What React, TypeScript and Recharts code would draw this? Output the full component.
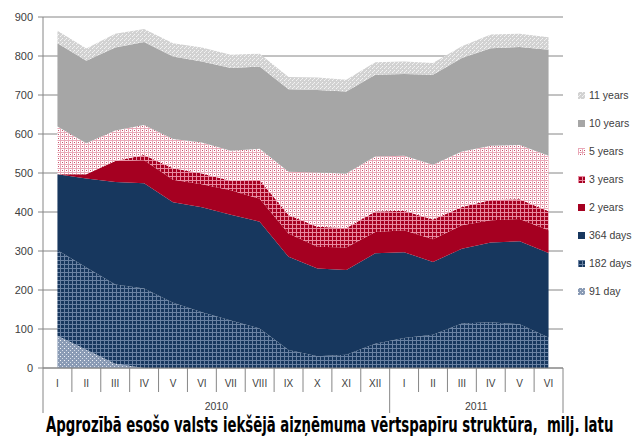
import React from "react";
import { AreaChart, Area, XAxis, YAxis, CartesianGrid } from "recharts";

// ---- data ----
const months = ["I", "II", "III", "IV", "V", "VI", "VII", "VIII", "IX", "X", "XI", "XII", "I", "II", "III", "IV", "V", "VI"];
const years = ["2010", "2010", "2010", "2010", "2010", "2010", "2010", "2010", "2010", "2010", "2010", "2010", "2011", "2011", "2011", "2011", "2011", "2011"];
const yTicks = [0, 100, 200, 300, 400, 500, 600, 700, 800, 900];

const day91 = [83, 47, 11, 0, 0, 0, 0, 0, 0, 0, 0, 0, 0, 0, 0, 0, 0, 0];
const day182 = [219, 211, 203, 204, 167, 143, 122, 101, 46, 30, 34, 62, 77, 85, 114, 117, 112, 78];
const day364 = [195, 228, 263, 270, 258, 269, 271, 274, 239, 225, 217, 232, 220, 187, 192, 205, 213, 217];
const years2 = [0, 11, 54, 59, 58, 59, 63, 59, 60, 56, 58, 55, 56, 58, 60, 57, 57, 58];
const years3 = [0, 0, 0, 13, 29, 28, 24, 48, 47, 51, 50, 52, 50, 51, 47, 52, 51, 49];
const years5 = [122, 79, 78, 77, 75, 79, 77, 80, 111, 139, 140, 141, 141, 140, 142, 139, 139, 142];
const years10 = [214, 212, 213, 213, 212, 208, 212, 211, 212, 212, 210, 210, 210, 231, 240, 250, 251, 272];
const years11 = [32, 31, 35, 33, 34, 36, 34, 33, 31, 32, 30, 32, 32, 30, 30, 35, 34, 32];

const title = "Apgrozībā esošo valsts iekšējā aizņēmuma vērtspapīru struktūra,  milj. latu";

const series = [
  { key: "d91", name: "91 day", values: day91, fill: "url(#p91)" },
  { key: "d182", name: "182 days", values: day182, fill: "url(#p182)" },
  { key: "d364", name: "364 days", values: day364, fill: "#17375E" },
  { key: "y2", name: "2 years", values: years2, fill: "#A50021" },
  { key: "y3", name: "3 years", values: years3, fill: "url(#p3y)" },
  { key: "y5", name: "5 years", values: years5, fill: "url(#p5y)" },
  { key: "y10", name: "10 years", values: years10, fill: "#A6A6A6" },
  { key: "y11", name: "11 years", values: years11, fill: "url(#p11y)" },
];

const data = months.map((m, i) => {
  const row: any = { month: m, year: years[i] };
  series.forEach((s) => (row[s.key] = s.values[i]));
  return row;
});

// ---- layout ----
const W = 632;
const H = 437;
const LEFT = 43;
const RIGHT_M = 69;
const PLOT_W = W - LEFT - RIGHT_M;
const BAND = PLOT_W / months.length;
const AXIS_COLOR = "#868686";
const TEXT_COLOR = "#404040";
const FONT = "'Liberation Sans', Arial, sans-serif";
const TITLE_W = 567;

const MonthTick = (props: any) => {
  const { x, y, payload, index } = props;
  const i = index;
  const left = x - BAND / 2;
  const right = x + BAND / 2;
  const groupStart = i === 0 || years[i] !== years[i - 1];
  const isLast = i === months.length - 1;
  let yearLabel = null;
  if (groupStart) {
    let count = 0;
    for (let j = i; j < years.length && years[j] === years[i]; j++) count++;
    const cx = left + (count * BAND) / 2;
    yearLabel = (
      <text x={cx} y={y + 42} textAnchor="middle" fontSize={10.5} fill={TEXT_COLOR} fontFamily={FONT}>
        {years[i]}
      </text>
    );
  }
  return (
    <g>
      <line x1={left} y1={y} x2={left} y2={y + (groupStart ? 45 : 24)} stroke={AXIS_COLOR} strokeWidth={1} />
      {isLast && <line x1={right} y1={y} x2={right} y2={y + 45} stroke={AXIS_COLOR} strokeWidth={1} />}
      <text x={x} y={y + 19} textAnchor="middle" fontSize={10} fill={TEXT_COLOR} fontFamily={FONT}>
        {payload.value}
      </text>
      {yearLabel}
    </g>
  );
};

export default function App() {
  const legendItems = [...series].reverse();
  const titleRef = React.useRef<SVGTextElement>(null);
  const [sx, setSx] = React.useState(1);
  React.useLayoutEffect(() => {
    if (titleRef.current) {
      const w = titleRef.current.getComputedTextLength();
      if (w > 0) setSx(TITLE_W / w);
    }
  }, []);
  return (
    <div style={{ position: "absolute", left: 0, top: 0, width: W, height: H, background: "#fff", overflow: "hidden" }}>
      <AreaChart
        width={W}
        height={H}
        data={data}
        margin={{ top: 17, right: RIGHT_M, bottom: 22, left: 0 }}
      >
        <defs>
          <pattern id="p91" width="4" height="4" patternUnits="userSpaceOnUse">
            <rect width="4" height="4" fill="#8a9bb5" />
            <rect x="0" y="0" width="1" height="1" fill="#f2f4f8" />
            <rect x="2" y="2" width="1" height="1" fill="#d6dde8" />
          </pattern>
          <pattern id="p182" width="4" height="4" patternUnits="userSpaceOnUse">
            <rect width="4" height="4" fill="#17375E" />
            <rect x="0" y="0" width="4" height="1" fill="#6a82a3" />
            <rect x="0" y="0" width="1" height="4" fill="#6a82a3" />
          </pattern>
          <pattern id="p3y" width="4" height="4" patternUnits="userSpaceOnUse">
            <rect width="4" height="4" fill="#A50021" />
            <rect x="0" y="0" width="4" height="1" fill="#e88aa0" />
            <rect x="0" y="0" width="1" height="4" fill="#e88aa0" />
          </pattern>
          <pattern id="p5y" width="4" height="4" patternUnits="userSpaceOnUse">
            <rect width="4" height="4" fill="#ffffff" />
            <rect x="0" y="0" width="4" height="1" fill="#eaa9b8" />
            <rect x="0" y="0" width="1" height="4" fill="#eaa9b8" />
            <rect x="2" y="2" width="1" height="1" fill="#c8506a" />
          </pattern>
          <pattern id="p11y" width="4" height="4" patternUnits="userSpaceOnUse">
            <rect width="4" height="4" fill="#d2d2d2" />
            <rect x="0" y="0" width="1" height="1" fill="#f4f4f4" />
            <rect x="2" y="2" width="1" height="1" fill="#f4f4f4" />
            <rect x="1" y="3" width="1" height="1" fill="#ececec" />
          </pattern>
        </defs>
        <CartesianGrid vertical={false} stroke={AXIS_COLOR} strokeWidth={1} />
        <XAxis
          dataKey="month"
          interval={0}
          height={47}
          padding={{ left: BAND / 2, right: BAND / 2 }}
          tickLine={false}
          tickSize={0}
          tickMargin={0}
          axisLine={{ stroke: AXIS_COLOR }}
          tick={<MonthTick />}
        />
        <YAxis
          width={LEFT}
          domain={[0, 900]}
          ticks={yTicks}
          interval={0}
          tickSize={5}
          tickMargin={5}
          axisLine={{ stroke: AXIS_COLOR }}
          tickLine={{ stroke: AXIS_COLOR }}
          tick={{ fontSize: 11, fill: TEXT_COLOR, fontFamily: FONT }}
        />
        {series.map((s) => (
          <Area
            key={s.key}
            dataKey={s.key}
            name={s.name}
            stackId="1"
            type="linear"
            fill={s.fill}
            fillOpacity={1}
            stroke="none"
            dot={false}
            activeDot={false}
            isAnimationActive={false}
          />
        ))}
      </AreaChart>
      {legendItems.map((s, k) => (
        <div
          key={s.key}
          style={{
            position: "absolute",
            left: 578,
            top: 95 + k * 28 - 8,
            height: 16,
            display: "flex",
            alignItems: "center",
            fontFamily: FONT,
            fontSize: 10.5,
            color: TEXT_COLOR,
            whiteSpace: "nowrap",
          }}
        >
          <svg width={7} height={7} style={{ marginRight: 4 }}>
            <rect width={7} height={7} fill={s.fill} />
          </svg>
          <span>{s.name}</span>
        </div>
      ))}
      <svg width={W} height={H} style={{ position: "absolute", left: 0, top: 0, pointerEvents: "none" }}>
        <text
          ref={titleRef}
          x={0}
          y={0}
          transform={`translate(46,432) scale(${sx},1.15)`}
          fontSize={18}
          fontWeight="bold"
          fill="#000"
          fontFamily="'Liberation Sans Narrow', 'DejaVu Sans Condensed', 'Liberation Sans', sans-serif"
          style={{ whiteSpace: "pre" }}
        >
          {title}
        </text>
      </svg>
    </div>
  );
}
